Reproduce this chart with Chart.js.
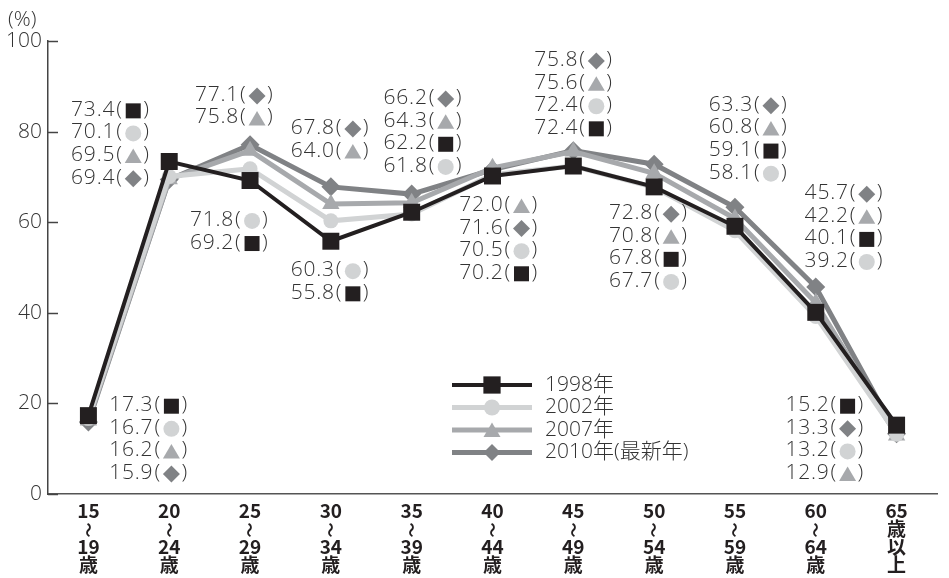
<!DOCTYPE html>
<html><head><meta charset="utf-8">
<script src="https://cdn.jsdelivr.net/npm/chart.js@4"></script>
<style>html,body{margin:0;padding:0;background:#fff}</style>
</head><body>
<canvas id="c" width="949" height="578"></canvas>
<script>
// ---- data ----
const categories = [
  ["15","〜","19","歳"], ["20","〜","24","歳"], ["25","〜","29","歳"], ["30","〜","34","歳"],
  ["35","〜","39","歳"], ["40","〜","44","歳"], ["45","〜","49","歳"], ["50","〜","54","歳"],
  ["55","〜","59","歳"], ["60","〜","64","歳"], ["65","歳","以","上"]
];
const seriesNames = ["1998年", "2002年", "2007年", "2010年(最新年)"];
const v1998 = [17.3, 73.4, 69.2, 55.8, 62.2, 70.2, 72.4, 67.8, 59.1, 40.1, 15.2];
const v2002 = [16.7, 70.1, 71.8, 60.3, 61.8, 70.5, 72.4, 67.7, 58.1, 39.2, 13.2];
const v2007 = [16.2, 69.5, 75.8, 64.0, 64.3, 72.0, 75.6, 70.8, 60.8, 42.2, 12.9];
const v2010 = [15.9, 69.4, 77.1, 67.8, 66.2, 71.6, 75.8, 72.8, 63.3, 45.7, 13.3];
const yTicks = [0, 20, 40, 60, 80, 100];
const unitLabel = "(%)";

// ---- styles ----
const seriesValues = [v1998, v2002, v2007, v2010];
const colors = ["#231f20", "#d1d3d4", "#a7a9ac", "#808285"];
const pointStyles = ["rect", "circle", "triangle", "rectRot"];
const pointRadii = [12, 7.5, 10, 9.5];
const lineWidths = [4, 5, 5, 5];
const LIGHT = '300 21px "Open Sans", "Noto Sans CJK JP", sans-serif';
const TEXT = "#333333";
const WAVE = "〜";

// label blocks: category, anchor offset (px) from category centre, value of first line, series order
const labelLayout = [
  {cat: 0, dx: 66, v: 19.6, order: [0, 1, 2, 3]},
  {cat: 1, dx: -53, v: 84.8, order: [0, 1, 2, 3]},
  {cat: 2, dx: -10, v: 88.1, order: [3, 2]},
  {cat: 2, dx: -15, v: 60.5, order: [1, 0]},
  {cat: 3, dx: 5, v: 80.8, order: [3, 2]},
  {cat: 3, dx: 5, v: 49.4, order: [1, 0]},
  {cat: 4, dx: 17, v: 87.4, order: [3, 2, 0, 1]},
  {cat: 5, dx: 12, v: 63.8, order: [2, 3, 1, 0]},
  {cat: 6, dx: 6, v: 95.8, order: [3, 2, 1, 0]},
  {cat: 7, dx: 0, v: 62.0, order: [3, 2, 0, 1]},
  {cat: 8, dx: 19, v: 85.9, order: [3, 2, 0, 1]},
  {cat: 9, dx: 34, v: 66.4, order: [3, 2, 0, 1]},
  {cat: 10, dx: -66, v: 19.6, order: [0, 3, 1, 2]}
];

function drawSymbol(ctx, k, x, y, scale) {
  const s = scale || 1;
  ctx.save();
  ctx.fillStyle = colors[k];
  ctx.beginPath();
  if (k === 0) { const h = 7.5 * s; ctx.rect(x - h, y - h, 2 * h, 2 * h); }
  else if (k === 1) { ctx.arc(x, y, 8 * s, 0, Math.PI * 2); }
  else if (k === 2) { ctx.moveTo(x - 8.5 * s, y + 7 * s); ctx.lineTo(x + 8.5 * s, y + 7 * s); ctx.lineTo(x, y - 7.5 * s); ctx.closePath(); }
  else { const h = 8.5 * s; ctx.moveTo(x, y - h); ctx.lineTo(x + h, y); ctx.lineTo(x, y + h); ctx.lineTo(x - h, y); ctx.closePath(); }
  ctx.fill();
  ctx.restore();
}

const deco = {
  id: 'deco',
  afterDraw(chart) {
    const ctx = chart.ctx, xs = chart.scales.x, ys = chart.scales.y;
    ctx.save();
    // y tick marks (inside)
    ctx.strokeStyle = '#444'; ctx.lineWidth = 1.5;
    yTicks.forEach(t => {
      const y = Math.round(ys.getPixelForValue(t)) + 0.5;
      ctx.beginPath(); ctx.moveTo(xs.left, y); ctx.lineTo(xs.left + 10, y); ctx.stroke();
    });
    // vertical wave marks in category labels
    categories.forEach((lines, i) => {
      lines.forEach((t, j) => {
        if (t !== WAVE) return;
        const x = xs.getPixelForValue(i), y = xs.bottom - 84 + 12 + j * 18 + 6;
        ctx.save();
        ctx.translate(x, y); ctx.rotate(Math.PI / 2);
        ctx.font = 'bold 15px "Noto Sans CJK JP", sans-serif';
        ctx.fillStyle = '#231f20'; ctx.textAlign = 'center'; ctx.textBaseline = 'middle';
        ctx.fillText(WAVE, 0, 0);
        ctx.restore();
      });
    });
    // unit
    ctx.font = LIGHT; ctx.fillStyle = TEXT; ctx.textBaseline = 'middle'; ctx.textAlign = 'left';
    ctx.fillText(unitLabel, 8, 20);
    // data labels
    try { ctx.letterSpacing = '0.8px'; } catch (e) {}
    labelLayout.forEach(g => {
      const ax = xs.getPixelForValue(g.cat) + g.dx;
      const y0 = ys.getPixelForValue(g.v);
      g.order.forEach((s, j) => {
        const y = y0 + j * 22.6;
        ctx.fillStyle = TEXT;
        ctx.textAlign = 'right';
        ctx.fillText(seriesValues[s][g.cat].toFixed(1), ax - 1, y);
        ctx.textAlign = 'left';
        ctx.fillText('(', ax, y);
        ctx.fillText(')', ax + 27, y);
        drawSymbol(ctx, s, ax + 17, y + 1);
      });
    });
    try { ctx.letterSpacing = '0px'; } catch (e) {}
    // legend
    seriesNames.forEach((name, i) => {
      const y = 385 + i * 22.5;
      ctx.strokeStyle = colors[i]; ctx.lineWidth = lineWidths[i];
      ctx.beginPath(); ctx.moveTo(452, y); ctx.lineTo(532, y); ctx.stroke();
      drawSymbol(ctx, i, 492, y, i === 0 ? 1.15 : 1.0);
      ctx.fillStyle = TEXT; ctx.textAlign = 'left'; ctx.font = LIGHT;
      ctx.fillText(name, 545, y);
    });
    ctx.restore();
  }
};

new Chart(document.getElementById('c'), {
  type: 'line',
  data: {
    labels: categories,
    datasets: seriesNames.map((n, i) => ({
      label: n,
      data: seriesValues[i],
      borderColor: colors[i],
      backgroundColor: colors[i],
      borderWidth: lineWidths[i],
      pointStyle: pointStyles[i],
      pointRadius: pointRadii[i],
      pointBackgroundColor: colors[i],
      pointBorderWidth: 0,
      tension: 0,
      fill: false
    }))
  },
  options: {
    responsive: false,
    animation: false,
    devicePixelRatio: 1,
    layout: {padding: {top: 41, left: 0, right: 0, bottom: 0}},
    plugins: {legend: {display: false}, tooltip: {enabled: false}},
    scales: {
      x: {
        type: 'category', offset: true,
        grid: {display: false, drawTicks: false},
        border: {display: true, color: '#555', width: 1.5},
        ticks: {autoSkip: false, maxRotation: 0, minRotation: 0, padding: 8, color: '#231f20',
          callback(v, i) { return categories[i].map(t => t === WAVE ? ' ' : t); },
          font: {family: '"Noto Sans CJK JP", "DejaVu Sans", sans-serif', weight: 'bold', size: 19, lineHeight: 0.95}},
        afterFit(s) { s.height = 84; }
      },
      y: {
        min: 0, max: 100,
        afterBuildTicks(s) { s.ticks = yTicks.map(v => ({value: v})); },
        grid: {display: false, drawTicks: false},
        border: {display: true, color: '#444', width: 1.5},
        ticks: {padding: 6, color: TEXT, font: {family: '"Open Sans", "Noto Sans CJK JP", sans-serif', weight: '300', size: 21}},
        afterFit(s) { s.width = 48; }
      }
    }
  },
  plugins: [deco]
});
</script>
</body></html>
